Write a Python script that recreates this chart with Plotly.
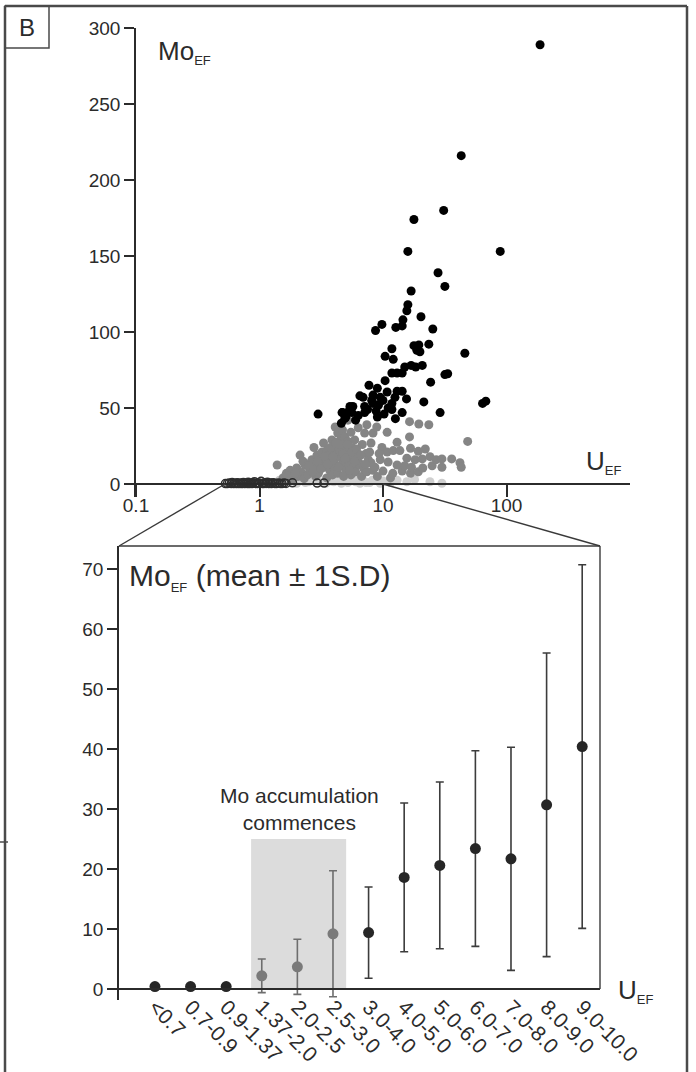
import plotly.graph_objects as go

W, H = 696, 1072


def px(x):
    return x / W


def py(y):
    return 1 - y / H


FONT = "Liberation Sans, Arial, sans-serif"
INK = "#2b2b2b"

# ---------------- upper panel: U_EF vs Mo_EF (log x) ----------------
black_u = [187, 43, 31, 17.8, 15.9, 89, 27.9, 31.7, 16.9, 15.9, 15.6, 20.3, 14.5, 9.8,
           8.7, 12.7, 14.3, 25.3, 46, 11.8, 10.4, 12.1, 17.8, 19.5, 23.5, 19.9, 18.8,
           15.0, 16.9, 18.4, 20.8, 11.8, 13.0, 14.3, 31.7, 33.4, 24.3, 10.4, 7.7, 64,
           68, 21.4, 29, 13, 14.3, 10.8, 8.3, 9.5, 10, 6.9, 8.1, 11.8, 11.8, 14.3, 12.6,
           9, 7.1, 5.7, 5.6, 6.0, 4.7, 7.1, 8.3, 2.98, 4.66, 4.6, 5.4, 9.2, 11,
           5.0, 5.3, 6.3, 7.5, 8.8, 10.2, 6.5, 9.0, 12.5, 15.5, 4.9]
black_mo = [289, 216, 180, 174, 153, 153, 139, 130, 127, 118, 114, 110, 108, 105,
            101, 103, 104, 102, 86, 89, 84, 82, 91, 91.5, 92, 87, 88,
            77, 78, 77, 78, 73, 73, 73, 72, 72.5, 67, 68, 65, 53,
            54.5, 54, 47, 61, 61, 60.5, 58.5, 57, 55, 57, 55, 53, 49, 47, 43,
            44, 47, 51, 47, 42, 47, 51, 53, 46, 47, 40, 51, 52, 50,
            44, 48, 45, 49, 48, 46, 58, 63, 57, 56, 43]

grey_u = [1.39, 1.55, 1.65, 1.77, 1.85, 2.0, 2.05, 2.13, 2.2, 2.3, 2.33, 2.45, 2.55, 2.6,
          2.66, 2.76, 2.8, 2.85, 2.92, 3.0, 3.1, 3.2, 3.3, 3.3, 3.4, 3.5, 3.5, 3.6, 3.7,
          3.7, 3.8, 3.86, 3.9, 4.0, 4.0, 4.1, 4.1, 4.2, 4.2, 4.3, 4.3, 4.4, 4.5, 4.5,
          4.6, 4.6, 4.7, 4.7, 4.8, 4.8, 4.9, 5.0, 5.0, 5.1, 5.2, 5.2, 5.3, 5.4, 5.5,
          5.5, 5.6, 5.8, 5.9, 6.0, 6.0, 6.2, 6.3, 6.4, 6.5, 6.7, 6.8, 7.0, 7.1, 7.3,
          7.4, 7.4, 7.6, 8.0, 8.0, 8.3, 8.3, 8.9, 9.0, 9.5, 9.8, 10.0, 10.8, 10.8,
          11.0, 11.5, 12.0, 12.1, 13.0, 13.0, 13.7, 14.3, 15.0, 15.6, 16.4, 16.4,
          16.7, 16.7, 17.0, 18.2, 19.3, 19.3, 19.5, 20.8, 21.0, 22.0, 23.5, 24.0,
          25.0, 27.0, 30.0, 30.0, 36.0, 42.0, 43.0, 48.5,
          1.7, 1.95, 2.25, 2.5, 2.7, 2.95, 3.15, 3.35, 3.55, 3.75, 3.95, 4.15, 4.35,
          4.55, 4.75, 4.95, 5.15, 5.35, 5.6, 5.9, 6.1, 6.6, 7.2, 7.8, 8.6, 9.3]
grey_mo = [12.5, 4, 7, 9, 3, 10.5, 5, 19, 7.5, 3.5, 12.5, 6, 9.5, 14,
           16, 24, 11, 5, 19, 7, 14, 21, 27, 11, 16, 22, 4, 18, 20,
           9, 13, 29, 6, 25, 15, 37.5, 10, 22, 19, 33.5, 7, 28, 12, 21,
           17, 31, 35.5, 25, 5, 14, 31, 9, 22, 16, 42, 28, 12, 19, 34,
           6, 24, 12, 29, 8, 17, 20, 37, 14, 12.5, 5, 26, 10, 33.5, 20,
           39, 8, 16, 14, 27, 33.5, 9, 37.5, 5, 16, 24, 8.5, 34, 21,
           14.5, 4, 7, 22, 27.5, 12.5, 22, 8.5, 12, 17, 41, 31,
           23.5, 7, 11, 16, 21.5, 8, 39.5, 16.5, 10.5, 23, 39, 18,
           12, 16, 16.5, 11, 16.5, 14, 11, 28,
           5.5, 7, 15, 12, 8, 15, 10, 18, 13, 24, 18, 27, 11,
           26, 20, 17, 26, 9, 21, 15, 23, 19, 13, 21, 11, 20]

light_u = [1.3, 1.45, 1.6, 1.8, 2.0, 2.2, 2.5, 2.7, 3.0, 3.3, 3.6, 4.0, 4.4, 4.9, 5.4,
           6.0, 6.9, 7.8, 8.8, 10, 11.5, 13, 15.6, 18, 24, 30,
           1.7, 2.35, 2.85, 3.45, 3.8, 4.6, 5.2, 5.8, 6.5, 7.3, 8.2, 9.5]
light_mo = [1, 2.5, 1, 2, 0.5, 3, 1.5, 4, 2, 1, 3.5, 1.5, 3, 2, 4,
            1.5, 2.5, 1, 3, 2, 1, 2.5, 1.5, 3, 1.5, 0.5,
            3.5, 1, 3, 0.5, 2, 0.5, 1, 3, 0.5, 1, 2.5, 0.5]

open_u = [0.53, 0.55, 0.57, 0.59, 0.6, 0.62, 0.63, 0.65, 0.66, 0.68, 0.7, 0.71, 0.73,
          0.74, 0.76, 0.78, 0.8, 0.81, 0.83, 0.85, 0.87, 0.89, 0.91, 0.93, 0.96, 0.98,
          1.0, 1.03, 1.05, 1.08, 1.1, 1.13, 1.16, 1.19, 1.22, 1.25, 1.29, 1.33, 1.37,
          1.42, 1.47, 1.52, 1.58, 1.64, 1.85, 2.93, 3.33]
open_mo = [0.3, 0.3, 0.6, 0.3, 1.0, 0.3, 0.5, 0.3, 0.8, 0.3, 0.6, 0.3, 0.4,
           1.0, 0.3, 0.6, 0.3, 1.1, 0.3, 0.5, 0.3, 0.8, 1.5, 0.4, 0.3, 0.7,
           0.5, 1.8, 0.4, 0.3, 0.8, 0.4, 1.2, 0.3, 0.6, 0.3, 0.9, 0.4, 0.3,
           0.7, 0.4, 0.3, 0.6, 0.4, 0.8, 0.6, 0.6]

top_xticks = [0.1, 1, 10, 100]
top_xtext = ["0.1", "1", "10", "100"]
top_yticks = [0, 50, 100, 150, 200, 250, 300]

# ---------------- lower panel: binned Mo_EF mean ± 1 SD ----------------
bins = ["<0.7", "0.7-0.9", "0.9-1.37", "1.37-2.0", "2.0-2.5", "2.5-3.0", "3.0-4.0",
        "4.0-5.0", "5.0-6.0", "6.0-7.0", "7.0-8.0", "8.0-9.0", "9.0-10.0"]
mean_mo = [0.4, 0.4, 0.4, 2.2, 3.7, 9.2, 9.4, 18.6, 20.6, 23.4, 21.7, 30.7, 40.4]
sd_mo = [0, 0, 0, 2.8, 4.6, 10.5, 7.6, 12.4, 13.9, 16.3, 18.6, 25.3, 30.3]
onset_bins = [3, 4, 5]          # bins inside the accumulation-onset window
bottom_yticks = [0, 10, 20, 30, 40, 50, 60, 70]

fig = go.Figure()

# upper scatter layers
fig.add_trace(go.Scatter(x=light_u, y=light_mo, mode="markers", xaxis="x", yaxis="y",
                         marker=dict(size=9, color="#cfcfcf"), cliponaxis=False,
                         showlegend=False))
fig.add_trace(go.Scatter(x=grey_u, y=grey_mo, mode="markers", xaxis="x", yaxis="y",
                         marker=dict(size=9, color="#858585"), cliponaxis=False,
                         showlegend=False))
fig.add_trace(go.Scatter(x=black_u, y=black_mo, mode="markers", xaxis="x", yaxis="y",
                         marker=dict(size=9, color="#000000"), cliponaxis=False,
                         showlegend=False))
fig.add_trace(go.Scatter(x=open_u, y=open_mo, mode="markers", xaxis="x", yaxis="y",
                         marker=dict(size=8, symbol="circle-open", color="#2e2e2e",
                                     line=dict(width=1.5)),
                         cliponaxis=False, showlegend=False))

# lower panel points with error bars
idx = list(range(len(bins)))
dark_i = [i for i in idx if i not in onset_bins]
grey_i = [i for i in idx if i in onset_bins]
fig.add_trace(go.Scatter(
    x=dark_i, y=[mean_mo[i] for i in dark_i], mode="markers", xaxis="x2", yaxis="y2",
    marker=dict(size=11, color="#262626"),
    error_y=dict(type="data", array=[sd_mo[i] for i in dark_i], symmetric=True,
                 color="#3c3c3c", thickness=1.6, width=4),
    cliponaxis=False, showlegend=False))
fig.add_trace(go.Scatter(
    x=grey_i, y=[mean_mo[i] for i in grey_i], mode="markers", xaxis="x2", yaxis="y2",
    marker=dict(size=11, color="#7a7a7a"),
    error_y=dict(type="data", array=[sd_mo[i] for i in grey_i], symmetric=True,
                 color="#6e6e6e", thickness=1.6, width=4),
    cliponaxis=False, showlegend=False))

axis_common = dict(showgrid=False, zeroline=False, automargin=False,
                   linecolor=INK, linewidth=1.5, tickcolor=INK, tickwidth=1.5)
tick_font = dict(family=FONT, size=19, color=INK)

fig.update_layout(
    template="none",
    width=W, height=H, autosize=False,
    margin=dict(l=0, r=0, t=0, b=0, pad=0),
    paper_bgcolor="white", plot_bgcolor="rgba(0,0,0,0)",
    xaxis=dict(domain=[px(136), px(630)], type="log", range=[-1, 3],
               anchor="free", position=py(484), showline=True,
               ticks="outside", ticklen=12, tickvals=top_xticks, ticktext=top_xtext,
               tickfont=tick_font, ticklabelstandoff=-8, **axis_common),
    yaxis=dict(domain=[py(497), py(28)], range=[-8.55, 300], anchor="x",
               showline=True, ticks="outside", ticklen=10, tickvals=top_yticks,
               tickfont=tick_font, **axis_common),
    xaxis2=dict(domain=[px(119), px(600)], range=[-1.01, 12.5], anchor="free",
                position=py(989), showline=True, ticks="", tickvals=idx,
                ticktext=bins, tickangle=45, ticklabelstandoff=-3,
                tickfont=dict(family=FONT, size=21, color=INK), **axis_common),
    yaxis2=dict(domain=[py(1000), py(546)], range=[-1.83, 73.83], anchor="x2",
                showline=True, ticks="outside", ticklen=10, tickvals=bottom_yticks,
                tickfont=tick_font, **axis_common),
)

line_style = dict(color="#3a3a3a", width=1.4)
shapes = [
    # onset window shading
    dict(type="rect", xref="x2", yref="y2", x0=2.7, x1=5.37, y0=0, y1=25,
         fillcolor="#dcdcdc", line=dict(width=0), layer="below"),
    # lower panel frame (top and right)
    dict(type="line", xref="paper", yref="paper", x0=px(119), x1=px(600),
         y0=py(546), y1=py(546), line=line_style),
    dict(type="line", xref="paper", yref="paper", x0=px(600), x1=px(600),
         y0=py(546), y1=py(989), line=line_style),
    # zoom connectors from the upper axis to the lower frame
    dict(type="line", xref="paper", yref="paper", x0=px(225), x1=px(119),
         y0=py(484), y1=py(546), line=line_style),
    dict(type="line", xref="paper", yref="paper", x0=px(383), x1=px(600),
         y0=py(484), y1=py(546), line=line_style),
    # outer panel border
    dict(type="line", xref="paper", yref="paper", x0=px(5), x1=px(5),
         y0=py(6), y1=0, line=dict(color="#4a4a4a", width=2.5)),
    dict(type="line", xref="paper", yref="paper", x0=px(5), x1=px(687),
         y0=py(6), y1=py(6), line=dict(color="#4a4a4a", width=2.5)),
    dict(type="line", xref="paper", yref="paper", x0=px(687), x1=px(687),
         y0=py(6), y1=0, line=dict(color="#4a4a4a", width=2.5)),
    dict(type="line", xref="paper", yref="paper", x0=0, x1=px(8),
         y0=py(842), y1=py(842), line=dict(color="#4a4a4a", width=1.5)),
    # panel letter box
    dict(type="rect", xref="paper", yref="paper", x0=px(5), x1=px(49),
         y0=py(48), y1=py(6), line=dict(color="#4a4a4a", width=1.5)),
]
fig.update_layout(shapes=shapes)

sub = "<span style='font-size:13px'>{}</span>"
annotations = [
    dict(text="B", x=px(27), y=py(27), xref="paper", yref="paper", showarrow=False,
         xanchor="center", yanchor="middle", font=dict(family=FONT, size=24, color=INK)),
    dict(text="Mo<sub>" + sub.format("EF") + "</sub>", x=px(156), y=py(52),
         xref="paper", yref="paper", showarrow=False, xanchor="left", yanchor="middle",
         font=dict(family=FONT, size=26, color=INK)),
    dict(text="U<sub>" + sub.format("EF") + "</sub>", x=px(584), y=py(462),
         xref="paper", yref="paper", showarrow=False, xanchor="left", yanchor="middle",
         font=dict(family=FONT, size=26, color=INK)),
    dict(text="Mo<sub>" + sub.format("EF") + "</sub> (mean ± 1S.D)", x=px(127), y=py(577),
         xref="paper", yref="paper", showarrow=False, xanchor="left", yanchor="middle",
         font=dict(family=FONT, size=30, color=INK)),
    dict(text="U<sub>" + sub.format("EF") + "</sub>", x=px(616), y=py(991),
         xref="paper", yref="paper", showarrow=False, xanchor="left", yanchor="middle",
         font=dict(family=FONT, size=26, color=INK)),
    dict(text="Mo accumulation<br>commences", x=px(299), y=py(809),
         xref="paper", yref="paper", showarrow=False, xanchor="center",
         yanchor="middle", align="center",
         font=dict(family=FONT, size=21, color=INK)),
]
fig.update_layout(annotations=annotations)

fig.write_html("out.html")
